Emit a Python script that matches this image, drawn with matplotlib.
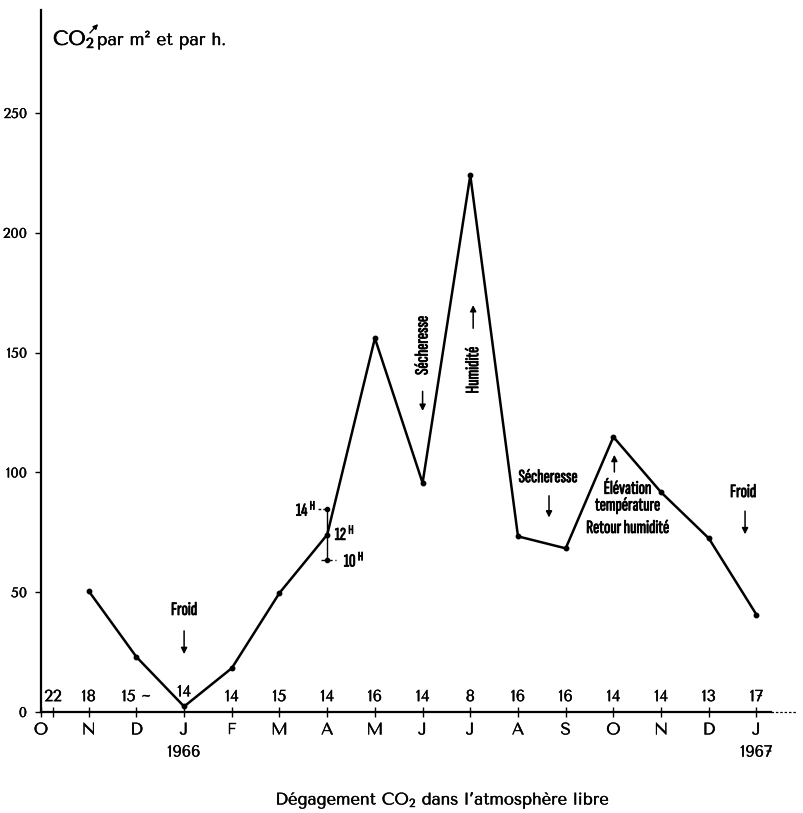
import matplotlib.pyplot as plt
from matplotlib.patches import FancyArrowPatch
import matplotlib.patheffects as pe

# month axis, Oct 1965 .. Jan 1967
months = ['O', 'N', 'D', 'J', 'F', 'M', 'A', 'M', 'J', 'J', 'A', 'S', 'O', 'N', 'D', 'J']
years = {3: '1966', 15: '1967'}

# CO2 per m2 per hour, measured from N (index 1) onward
co2_idx = list(range(1, 16))
co2 = [50.5, 23, 2.3, 18.3, 49.7, 74, 156, 95.6, 224, 73.3, 68.3, 114.8, 91.7, 72.5, 40.6]

# temperatures written along the axis
temp_pos = [0.25, 1, 2, 3, 4, 5, 6, 7, 8, 9, 10, 11, 12, 13, 14, 15]
temp_lab = ['22', '18', '15 ~', '14', '14', '15', '14', '16', '14', '8', '16', '16', '14', '14', '13', '17']

# April hourly readings
april_14h = 84.6
april_12h = 74
april_10h = 63.4

cond = ['Sofia Sans Extra Condensed', 'Fira Sans Extra Condensed', 'DejaVu Sans']
main = ['Tenor Sans', 'Lato', 'DejaVu Sans']
plt.rcParams['font.family'] = main
plt.rcParams['mathtext.default'] = 'regular'

heavy = [pe.withStroke(linewidth=0.6, foreground='black')]
medium = [pe.withStroke(linewidth=0.3, foreground='black')]

fig = plt.figure(figsize=(8.04, 8.13), dpi=100)
ax = fig.add_axes([41 / 804, 101 / 813, 759 / 804, 702 / 813])
ax.set_xlim(0, 759 / 47.7)
ax.set_ylim(0, 702 / 2.396)

for s in ['top', 'right']:
    ax.spines[s].set_visible(False)
ax.spines['left'].set_linewidth(1.6)
ax.spines['bottom'].set_linewidth(1.6)
ax.spines['bottom'].set_bounds(0, 15.3)
ax.plot([15.3, 15.85], [0, 0], color='black', lw=0.9, ls=(0, (2, 1.5)), clip_on=False)

ax.set_yticks([0, 50, 100, 150, 200, 250])
ax.set_yticklabels(['0', '50', '100', '150', '200', '250'], fontsize=10)
ax.tick_params(axis='y', direction='out', length=4, width=1, pad=6)

ax.set_xticks([0.25] + list(range(16)))
ax.set_xticklabels([''] + months, fontsize=12)
ax.tick_params(axis='x', direction='inout', length=7, width=1, pad=4)
for lab in ax.get_xticklabels() + ax.get_yticklabels():
    lab.set_path_effects(medium)

for i, y in years.items():
    ax.text(i, -14, y, ha='center', va='top', fontsize=11.5, path_effects=medium)

for x, t in zip(temp_pos, temp_lab):
    yy = 8 if t == '14' and x == 3 else 6
    ax.text(x, yy, t, ha='center', va='center', fontsize=11.5, path_effects=medium)

ax.plot(co2_idx, co2, color='black', lw=1.8, marker='o', ms=3.2, clip_on=False)

# April hours
ax.plot([6, 6], [april_14h, april_12h], color='black', lw=1)
ax.plot([6, 6], [april_12h, april_10h], color='black', lw=1)
ax.plot([6, 6], [april_14h, april_10h], 'o', color='black', ms=3)
ax.plot([5.8, 5.97], [april_14h, april_14h], color='black', lw=1, ls=(0, (2, 1.5)))
ax.plot([5.88, 6.18], [april_10h, april_10h], color='black', lw=1, ls=(0, (3, 2)))
hfont = dict(fontsize=13, family=cond, weight='bold', path_effects=heavy)
ax.text(5.77, april_14h, '14 $^{H}$', ha='right', va='center', **hfont)
ax.text(6.16, april_12h + 0.5, '12 $^{H}$', ha='left', va='center', **hfont)
ax.text(6.35, april_10h, '10 $^{H}$', ha='left', va='center', **hfont)

arrow = dict(arrowstyle='-|>', color='black', lw=1.1, mutation_scale=9)


def note(x, y, txt, rot=0):
    ax.text(x, y, txt, ha='center', va='center', fontsize=13.5, family=cond,
            weight='bold', rotation=rot, linespacing=1.05, path_effects=heavy)


def arr(x0, y0, y1):
    ax.annotate('', xy=(x0, y1), xytext=(x0, y0), arrowprops=arrow)


note(3.0, 42.6, 'Froid')
arr(3.0, 35, 23)
note(8.0, 153, 'Sécheresse', rot=90)
arr(8.0, 135, 124.5)
note(9.06, 142.7, 'Humidité', rot=90)
arr(9.06, 159, 171)
note(10.63, 98, 'Sécheresse')
arr(10.65, 91.4, 80)
note(12.3, 89.7, 'Élévation\ntempérature')
note(12.3, 76.8, 'Retour humidité')
arr(12.02, 99, 108.5)
note(14.72, 91.8, 'Froid')
arr(14.76, 85, 73)

fig.text(53 / 804, 1 - 45 / 813, 'CO$_2$', fontsize=14.5, ha='left', va='baseline',
         path_effects=[pe.withStroke(linewidth=0.5, foreground='black')])
fig.text(97 / 804, 1 - 45 / 813, 'par m² et par h.', fontsize=12.5, ha='left', va='baseline',
         path_effects=medium)
fig.add_artist(FancyArrowPatch(
    (88 / 804, 1 - 35 / 813), (100 / 804, 1 - 22 / 813), transform=fig.transFigure,
    arrowstyle='-|>', mutation_scale=7, color='black', lw=1))

fig.text(0.55, 1 - 800 / 813, "Dégagement CO$_2$ dans l’atmosphère libre",
         ha='center', va='center', fontsize=12, path_effects=medium)

fig.savefig('out.png', dpi=100)
